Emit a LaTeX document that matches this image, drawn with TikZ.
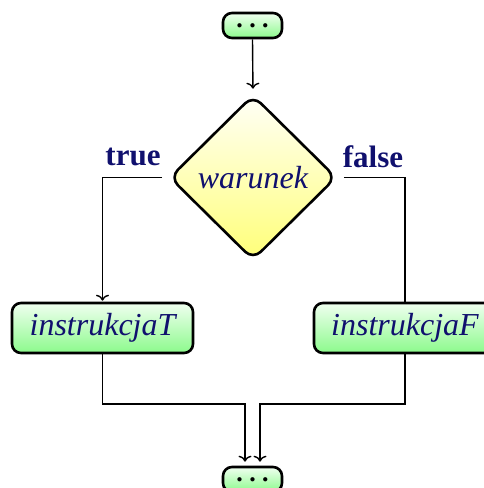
\documentclass[tikz,border=0pt]{standalone}
\usepackage{fontspec}
\setmainfont{Liberation Serif}
\usetikzlibrary{shapes.geometric,arrows.meta}
\definecolor{navy}{RGB}{16,16,110}
\definecolor{boxgreen}{RGB}{140,250,140}
\definecolor{boxyellow}{RGB}{255,255,120}
% small ellipsis lowered onto the baseline, so the node centres it
\newcommand{\threedots}{{\fontsize{11}{11}\selectfont
  \raisebox{-0.25em}[0pt][0pt]{${\bullet}\mkern12mu{\bullet}\mkern12mu{\bullet}$}}}
\tikzset{
  block/.style={draw=black, line width=2.6pt, rounded corners=9pt,
    top color=green!6!white, bottom color=boxgreen,
    text=navy, font=\fontsize{32}{34}\selectfont\itshape, inner sep=0pt},
  cond/.style={draw=black, line width=2.6pt, diamond, rounded corners=11pt,
    top color=yellow!3!white, bottom color=boxyellow,
    text=navy, font=\fontsize{32}{34}\selectfont\itshape, inner sep=0pt,
    minimum width=167pt, minimum height=165pt},
  ellbox/.style={block, text=black, minimum width=59pt, minimum height=25pt,
    font=\normalfont},
  flow/.style={line width=1.4pt, draw=black},
  arr/.style={flow, -{To[length=6pt,width=13pt,line width=1.4pt]}},
  lbl/.style={text=navy, font=\fontsize{31}{33}\selectfont\bfseries, inner sep=0pt}
}
\begin{document}
\begin{tikzpicture}[x=1pt,y=-1pt]
  \useasboundingbox (0,0) rectangle (483,488);
  % flowchart nodes
  \node[ellbox] (start) at (252.5,25.5) {\threedots};
  \node[cond] (dec) at (253,177.5) {warunek};
  \node[block, minimum width=181pt, minimum height=50pt] (instT) at (102.5,328) {instrukcjaT};
  \node[block, minimum width=182pt, minimum height=50pt] (instF) at (405,328) {instrukcjaF};
  \node[ellbox] (stop) at (252.5,479.5) {\threedots};
  % branch labels
  \node[lbl] (ltrue) at (133,157) {true};
  \node[lbl] (lfalse) at (373,157) {false};
  % junction points above the end node
  \coordinate (jl) at (245,404);
  \coordinate (jr) at (260,404);
  % connectors
  \draw[arr, shorten >=5pt] (start.south) -- (dec.north);
  \draw[arr, shorten <=6pt, shorten >=1pt] (dec.west) -| (instT.north);
  \draw[flow, shorten <=6pt] (dec.east) -| (instF.north);
  \draw[arr, shorten >=4pt] (instT.south) |- (jl) -- (jl |- stop.north);
  \draw[arr, shorten >=4pt] (instF.south) |- (jr) -- (jr |- stop.north);
\end{tikzpicture}
\end{document}
